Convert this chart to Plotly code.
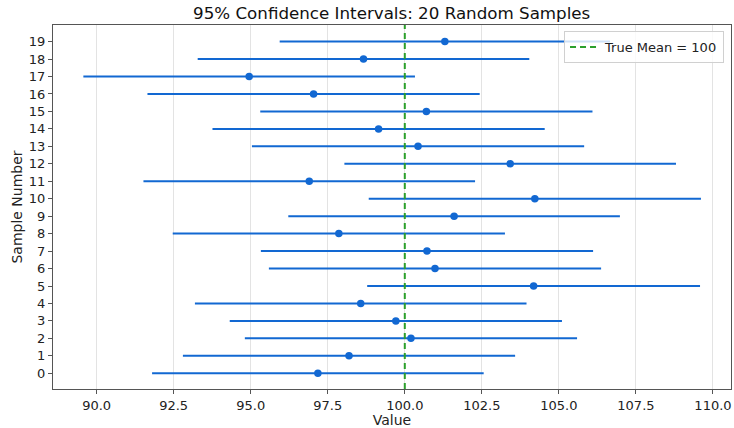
import plotly.graph_objects as go

samples = list(range(20))
means = [97.18, 98.19, 100.20, 99.71, 98.57, 104.18, 100.98, 100.72, 97.86, 101.60,
         104.22, 96.90, 103.42, 100.43, 99.15, 100.70, 97.04, 94.95, 98.66, 101.30]
half_widths = [5.38, 5.39, 5.39, 5.39, 5.38, 5.40, 5.39, 5.39, 5.39, 5.38,
               5.39, 5.38, 5.38, 5.39, 5.39, 5.39, 5.39, 5.38, 5.38, 5.36]
true_mean = 100
title = "95% Confidence Intervals: 20 Random Samples"
legend_label = "True Mean = 100"

blue = "#1268d2"
green = "#2ca02c"
font = "DejaVu Sans"

fig = go.Figure()
fig.add_trace(go.Scatter(
    x=means, y=samples, mode="markers",
    marker=dict(color=blue, size=7.5),
    error_x=dict(type="data", array=half_widths, symmetric=True,
                 color=blue, thickness=2, width=0),
    showlegend=False, hoverinfo="x+y",
))
fig.add_vline(x=true_mean, line=dict(color=green, width=2, dash="6px,4px"), layer="above")
fig.add_trace(go.Scatter(
    x=[None], y=[None], mode="lines", name=legend_label,
    line=dict(color=green, width=2, dash="6px,4px"),
))

fig.update_layout(
    width=734, height=428,
    margin=dict(l=53, r=3, t=25, b=39),
    paper_bgcolor="white", plot_bgcolor="white",
    font=dict(family=font, size=13, color="#222"),
    title=dict(text=title, x=391.7 / 734, xanchor="center",
               y=1 - 13 / 428, yanchor="middle",
               font=dict(family=font, size=16.7, color="#111")),
    legend=dict(x=0.9897, xanchor="right", y=0.9835, yanchor="top",
                bgcolor="rgba(255,255,255,0.8)", bordercolor="#d0d0d0", borderwidth=1,
                font=dict(family=font, size=13, color="#222"),
                itemwidth=30, tracegroupgap=0),
    xaxis=dict(
        range=[88.585, 110.585],
        tickmode="array",
        tickvals=[90, 92.5, 95, 97.5, 100, 102.5, 105, 107.5, 110],
        ticktext=["90.0", "92.5", "95.0", "97.5", "100.0", "102.5", "105.0", "107.5", "110.0"],
        showgrid=True, gridcolor="rgba(176,176,176,0.35)", gridwidth=1,
        zeroline=False,
        showline=True, linecolor="#555", linewidth=1, mirror=True,
        ticks="outside", ticklen=4, tickcolor="#555",
        title=dict(text="Value", font=dict(size=14), standoff=3),
        tickfont=dict(size=13),
    ),
    yaxis=dict(
        range=[-0.9, 19.95],
        tickmode="array", tickvals=samples, ticktext=[str(s) for s in samples],
        showgrid=False, zeroline=False,
        showline=True, linecolor="#555", linewidth=1, mirror=True,
        ticks="outside", ticklen=4, tickcolor="#555",
        title=dict(text="Sample Number", font=dict(size=14), standoff=2),
        tickfont=dict(size=13),
    ),
)

fig.write_html("out.html")
